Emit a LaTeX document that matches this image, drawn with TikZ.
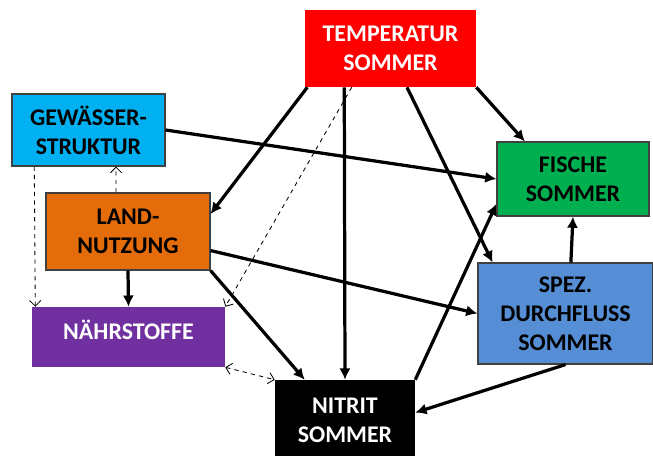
\documentclass[tikz,border=0pt]{standalone}
\usepackage{fontspec}
\setmainfont{Carlito}
\usetikzlibrary{arrows.meta}

\definecolor{tempred}{RGB}{255,0,0}
\definecolor{gewblue}{RGB}{0,176,240}
\definecolor{landorange}{RGB}{228,108,10}
\definecolor{naehrviolet}{RGB}{112,48,160}
\definecolor{fischgreen}{RGB}{0,176,80}
\definecolor{abflblue}{RGB}{85,142,213}

\begin{document}
\begin{tikzpicture}
  [every node/.style={rectangle, align=center, font=\fontsize{17}{20.5}\selectfont\bfseries, inner sep=0pt},
   framed/.style={draw=black!75, thick}]
  \useasboundingbox (0,0) rectangle (16.325,-11.4);
  \node (Temp) [fill=tempred, text=white, minimum width=4.275cm, minimum height=1.925cm] at (9.7625,-1.2125) {TEMPERATUR\\SOMMER};
  \node (Gew) [framed, fill=gewblue, minimum width=3.825cm, minimum height=1.8cm] at (2.2125,-3.25) {GEWÄSSER-\\STRUKTUR};
  \node (Land) [framed, fill=landorange, minimum width=4.1cm, minimum height=1.925cm] at (3.2,-5.7875) {LAND-\\NUTZUNG};
  \node (Naehr) [fill=naehrviolet, text=white, text depth=10pt, minimum width=4.825cm, minimum height=1.5cm] at (3.2125,-8.425) {NÄHRSTOFFE};
  \node (Nitrit) [fill=black, text=white, minimum width=3.5cm, minimum height=2cm] at (8.625,-10.5) {NITRIT\\SOMMER};
  \node (Fisch) [framed, fill=fischgreen, minimum width=3.8cm, minimum height=1.85cm] at (14.325,-4.475) {FISCHE\\SOMMER};
  \node (Abfl) [framed, fill=abflblue, minimum width=4.375cm, minimum height=2.525cm] at (14.1375,-7.8375) {SPEZ.\\DURCHFLUSS\\SOMMER};

  \foreach \from / \to in {Temp.205.6/Land.12.4, Temp.220.2/Nitrit.north, Temp.293.2/Abfl.145.5,
    Temp.south east/Fisch.142.4, Gew.east/Fisch.west, Land.south/Naehr.north, Land.347.6/Abfl.west,
    Land.south east/Nitrit.135, Nitrit.north east/Fisch.198.9, Abfl.south/Nitrit.6.5, Abfl.84.9/Fisch.south}
    \draw[line width=2.3pt, -{Latex[length=8pt,width=8pt]}] (\from) -- (\to);

  \foreach \from / \to in {Temp.225/Naehr.north east, Gew.214.4/Naehr.162, Land.107.3/Gew.307.9}
    \draw[line width=0.6pt, dashed, -{Straight Barb[length=4pt,width=8pt]}] (\from) -- (\to);
  \draw[line width=0.6pt, dashed, {Straight Barb[length=4pt,width=8pt]}-{Straight Barb[length=4pt,width=8pt]}] (Naehr.south east) -- (Nitrit.north west);

\end{tikzpicture}
\end{document}
